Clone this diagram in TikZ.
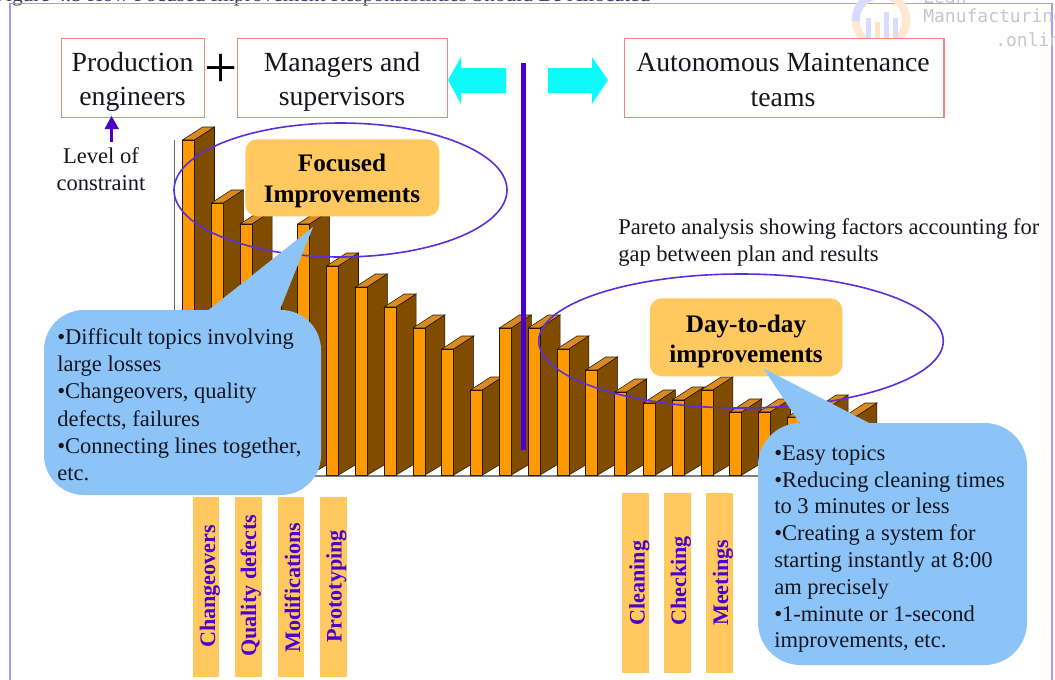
\documentclass[tikz,border=0pt]{standalone}
\usetikzlibrary{shapes.geometric}
\usepackage{fontspec}
\setmainfont{Liberation Serif}
\newfontfamily\wmfont{DejaVu Sans Mono}
\definecolor{framec}{HTML}{A898FF}
\definecolor{boxline}{HTML}{F08878}
\definecolor{purp}{HTML}{4A00C8}
\definecolor{ell}{HTML}{5A30D8}
\definecolor{amber}{HTML}{FFC95F}
\definecolor{sky}{HTML}{8DC4F8}
\definecolor{barfront}{HTML}{FF9900}
\definecolor{barside}{HTML}{804C00}
\definecolor{bartop}{HTML}{D98A20}
\definecolor{inkc}{HTML}{151520}
\definecolor{aqua}{HTML}{0CFAFA}
\tikzset{
 x=0.75pt,y=-0.75pt,
 rolebox/.style={draw=boxline,line width=0.8pt,fill=white,minimum height=59.25pt,inner sep=0pt,anchor=north west},
 roletext/.style={font=\fontsize{20.8pt}{25.6pt}\selectfont,text=inkc,align=center,inner sep=0pt},
 headbox/.style={fill=amber,rounded corners=9pt,inner sep=0pt,anchor=north west},
 headtext/.style={font=\fontsize{18.9pt}{23pt}\selectfont\bfseries,text=black,align=center,inner sep=0pt},
 calloutbox/.style={fill=sky,draw=none},
 calltext/.style={font=\fontsize{16.9pt}{20.1pt}\selectfont,text=inkc,align=left,inner sep=0pt,anchor=north west},
 plaintext/.style={font=\fontsize{16.9pt}{20.25pt}\selectfont,text=inkc,inner sep=0pt},
 strip/.style={fill=amber,draw=none},
 striptext/.style={font=\fontsize{16.6pt}{20pt}\selectfont\bfseries,text=purp,rotate=90,anchor=base west,inner sep=0pt},
 ringline/.style={draw=ell,line width=1.2pt},
 flowarrow/.style={fill=aqua,draw=none},
 marktext/.style={font=\wmfont\fontsize{13.5pt}{15pt}\selectfont,text=black!22,inner sep=0pt}
}
\newcommand{\onebar}[2]{%
 \fill[bartop,draw=black!70!barside,line width=.4pt] (#1,#2) -- ++(20,-13) -- ++(12,0) -- ++(-20,13) -- cycle;
 \fill[barside,draw=black!70!barside,line width=.4pt] (#1+12,#2) -- ++(20,-13) -- (#1+32,463) -- (#1+12,475) -- cycle;
 \fill[barfront,draw=black!70!barside,line width=.4pt] (#1,#2) rectangle (#1+12,475);
}
\begin{document}
\begin{tikzpicture}
\useasboundingbox (0,0) rectangle (1055,679);
\clip (0,0) rectangle (1055,679);
\fill[white] (0,0) rectangle (1055,679);
% caption cut by the top edge
\node[font=\fontsize{16pt}{18pt}\selectfont,text=black!75,anchor=base west,inner sep=0pt] (caption) at (-6,1) {Figure 4.5 How Focused Improvement Responsibilities Should Be Allocated};
% frame
\draw[framec,line width=1pt] (10,680) -- (10,3.5) -- (1052,3.5) -- (1052,680);
% watermark
\draw[orange!18,line width=6pt] (881,20) circle[radius=19pt];
\begin{scope}
\clip (850,-2) rectangle (881,20);
\draw[blue!14,line width=6pt] (881,20) circle[radius=19pt];
\end{scope}
\fill[blue!14] (866,18) rectangle (871,38);
\fill[orange!22] (875,22) rectangle (880,38);
\fill[blue!14] (884,12) rectangle (889,38);
\fill[blue!14] (893,18) rectangle (898,38);
\node[marktext,anchor=west] (wm1) at (923,-3) {Lean};
\node[marktext,anchor=west] (wm2) at (923,18) {Manufacturing};
\node[marktext,anchor=west] (wm3) at (995,40) {.online};
% axes
\draw[black!60,line width=.6pt] (174,140) -- (174,476);
\draw[black!50,line width=.8pt] (174,476) -- (870,476);
% bars
\onebar{182.5}{140}
\onebar{211.3}{203}
\onebar{240.1}{224}
\onebar{268.9}{272}
\onebar{297.7}{224}
\onebar{326.5}{266}
\onebar{355.3}{287}
\onebar{384.1}{307}
\onebar{412.9}{328}
\onebar{441.7}{349}
\onebar{470.5}{390}
\onebar{499.3}{328}
\onebar{528.1}{328}
\onebar{556.9}{349}
\onebar{585.7}{370}
\onebar{614.5}{392}
\onebar{643.3}{403}
\onebar{672.1}{400}
\onebar{700.9}{390}
\onebar{729.7}{412}
\onebar{758.5}{412}
\onebar{787.3}{417}
\onebar{816.1}{408}
\onebar{844.9}{416}
% rings
\node[ringline,ellipse,minimum width=249.75pt,minimum height=100.5pt,inner sep=0pt] (ringL) at (340.5,190) {};
\node[ringline,ellipse,minimum width=303.4pt,minimum height=100.5pt,inner sep=0pt] (ringR) at (741,341) {};
% purple axis
\fill[purp] (520.5,63) rectangle (525.5,450);
% role boxes
\node[rolebox,minimum width=107.25pt] (prod) at (60.5,38) {};
\node[rolebox,minimum width=157.5pt] (mgr) at (237,38) {};
\node[rolebox,minimum width=239.6pt] (auto) at (624,38) {};
\node[roletext] (prodt) at (132.5,82) {Production\\engineers};
\node[roletext] (mgrt) at (342,82) {Managers and\\supervisors};
\node[roletext] (autot) at (783,80) {Autonomous Maintenance\\teams};
\node[font=\fontsize{44pt}{44pt}\selectfont,text=black,inner sep=0pt] (plus) at (221,71) {+};
% cyan arrows
\fill[flowarrow] (448,80) -- (461,57) -- (461,68) -- (506,68) -- (506,93) -- (461,93) -- (461,104) -- cycle;
\fill[flowarrow] (608,80) -- (592,57) -- (592,68) -- (548,68) -- (548,93) -- (592,93) -- (592,104) -- cycle;
% level of constraint
\coordinate (lvl) at (111.5,142);
\draw[purp,line width=2.2pt] (lvl) -- (111.5,128);
\fill[purp] (111.5,116) -- (119,129) -- (104.5,129) -- cycle;
\node[plaintext,align=center] (level) at (101,169) {Level of\\constraint};
% pareto
\node[plaintext,align=left,anchor=north west] (pareto) at (618,218.5) {Pareto analysis showing factors accounting for\\gap between plan and results};
% head boxes
\node[headbox,minimum width=145.5pt,minimum height=57.75pt] (fbox) at (245,139) {};
\node[headtext] (ftext) at (342,181) {Focused\\Improvements};
\node[headbox,minimum width=144.4pt,minimum height=58.5pt] (dbox) at (649.5,298) {};
\node[headtext] (dtext) at (746,341.5) {Day-to-day\\improvements};
% callouts
\fill[calloutbox] (313,227) -- (279,312) -- (206,312) -- cycle;
\fill[calloutbox,rounded corners=30pt] (44,310) rectangle (321,495);
\fill[calloutbox] (763,368) -- (873,425) -- (801,425) -- cycle;
\fill[calloutbox,rounded corners=32pt] (758,423) rectangle (1027,665);
\node[calltext,font=\fontsize{16.9pt}{20.5pt}\selectfont] (ltext) at (57,328) {•Difficult topics involving\\large losses\\•Changeovers, quality\\defects, failures\\•Connecting lines together,\\etc.};
\node[calltext] (rtext) at (774,445) {•Easy topics\\•Reducing cleaning times\\to 3 minutes or less\\•Creating a system for\\starting instantly at 8:00\\am precisely\\•1-minute or 1-second\\improvements, etc.};
% strips
\fill[strip] (192.7,497) rectangle (219,677);
\fill[strip] (235,497) rectangle (262,677);
\fill[strip] (278,497) rectangle (304,677);
\fill[strip] (320,497) rectangle (346.5,677);
\fill[strip] (622,493) rectangle (649,673);
\fill[strip] (664,493) rectangle (691,673);
\fill[strip] (706,493) rectangle (733,673);
\node[striptext] (s1) at (215,648) {Changeovers};
\node[striptext] (s2) at (256,657) {Quality defects};
\node[striptext] (s3) at (300,653) {Modifications};
\node[striptext] (s4) at (341.5,643) {Prototyping};
\node[striptext] (s5) at (644.5,626) {Cleaning};
\node[striptext] (s6) at (686,626) {Checking};
\node[striptext] (s7) at (728,626) {Meetings};
\end{tikzpicture}
\end{document}
